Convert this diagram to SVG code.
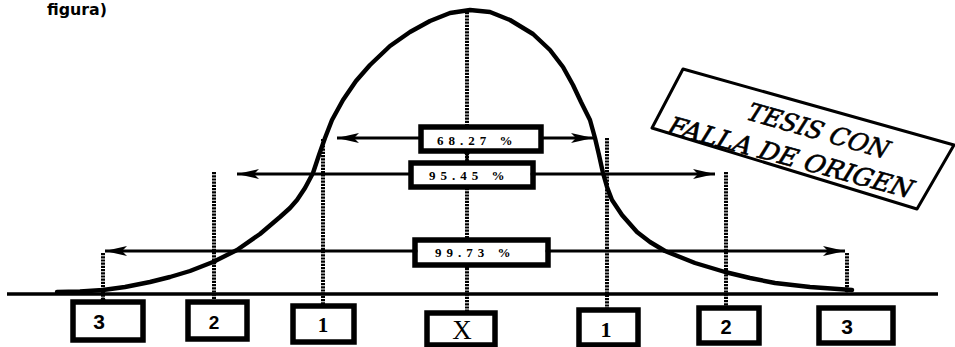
<svg xmlns="http://www.w3.org/2000/svg" width="955" height="347" viewBox="0 0 955 347">
<style>
.dot{stroke:#000;stroke-width:4;stroke-dasharray:2.2 1;fill:none}
.curve{stroke:#000;stroke-width:4.4;fill:none;stroke-linejoin:round;stroke-linecap:round}
.arr{stroke:#000;stroke-width:2.8;fill:none}
.box{fill:#fff;stroke:#000;stroke-width:5.5}
.pct{font-family:"Liberation Serif",serif;font-weight:bold;font-size:13px;letter-spacing:5px;fill:#000}
.lab{fill:#000}
.knob{fill:#000}
.st{font-family:"DejaVu Serif Condensed","DejaVu Serif","Liberation Serif",serif;font-style:italic;font-weight:normal;font-size:25px;fill:#000;stroke:#000;stroke-width:0.6}
</style>
<defs>
<marker id="ah" markerWidth="24" markerHeight="12" refX="22" refY="6" orient="auto" markerUnits="userSpaceOnUse">
<path d="M0,1 L22,6 L0,11 L5,6 Z" fill="#000"/>
</marker>
</defs>
<rect width="955" height="347" fill="#fff"/>
<text x="47" y="15" font-family="DejaVu Sans,sans-serif" font-weight="bold" font-size="15" textLength="60" lengthAdjust="spacingAndGlyphs">figura)</text>

<g id="connectors">
<g id="guides">
<line class="dot" x1="467" y1="12" x2="467" y2="312"/>
<line class="dot" x1="323" y1="139" x2="323" y2="305"/>
<line class="dot" x1="214" y1="172" x2="214" y2="301"/>
<line class="dot" x1="103" y1="253" x2="103" y2="300"/>
<line class="dot" x1="607" y1="138" x2="607" y2="309"/>
<line class="dot" x1="726" y1="172" x2="726" y2="307"/>
<line class="dot" x1="847" y1="253" x2="847" y2="291"/>
</g>
<polyline id="curve" class="curve" points="57,292 80,291.5 103,290 125,287 150,282 170,277 190,271 213,262 237,250 260,234 280,217 290,208 297,200 305,188 313,173 319,155 325,138 332,120 343,100 356,81 370,65 390,46 410,32 430,21 450,13 470,10 490,12 510,20 533,34 550,50 563,67 573,85 581,102 590,120 595,138 599,155 603,173 607,187 612,200 622,215 637,232 650,242 665,251 695,263 725,272 750,278 775,283 810,287 852,290"/>
<line id="axis" x1="7" y1="294" x2="938" y2="294" stroke="#000" stroke-width="3.5"/>
<line class="arr" x1="421" y1="138" x2="337" y2="138" marker-end="url(#ah)"/>
<line class="arr" x1="541" y1="138" x2="593" y2="138" marker-end="url(#ah)"/>
<line class="arr" x1="411" y1="174" x2="237" y2="174" marker-end="url(#ah)"/>
<line class="arr" x1="533" y1="174" x2="715" y2="174" marker-end="url(#ah)"/>
<line class="arr" x1="415" y1="251" x2="105" y2="251" marker-end="url(#ah)"/>
<line class="arr" x1="548" y1="251" x2="845" y2="251" marker-end="url(#ah)"/>
<line x1="467" y1="151" x2="467" y2="163" stroke="#000" stroke-width="3"/>
<circle class="knob" cx="103" cy="300" r="2.5"/>
<circle class="knob" cx="214" cy="262" r="2.5"/>
<circle class="knob" cx="726" cy="272" r="2.5"/>
<circle class="knob" cx="847" cy="290" r="2.5"/>
</g>

<g id="p68">
<rect class="box" x="421" y="127" width="120" height="24"/>
<text class="pct" x="437" y="145">68.27 %</text>
<circle class="knob" cx="467" cy="152" r="3"/>
</g>
<g id="p95">
<rect class="box" x="411" y="163" width="122" height="24"/>
<text class="pct" x="429" y="180">95.45 %</text>
<circle class="knob" cx="533" cy="174" r="2.5"/>
</g>
<g id="p99">
<rect class="box" x="415" y="240" width="133" height="25"/>
<text class="pct" x="435" y="257">99.73 %</text>
<circle class="knob" cx="467" cy="266" r="2.5"/>
<circle class="knob" cx="415" cy="251" r="2.5"/>
<circle class="knob" cx="548" cy="251" r="2.5"/>
</g>

<g id="L3">
<rect class="box" x="73" y="302" width="70" height="38"/>
<text class="lab" x="99" y="329" font-family="Liberation Sans,sans-serif" font-weight="bold" font-size="21" text-anchor="middle">3</text>
</g>
<g id="L2">
<rect class="box" x="188" y="302" width="59" height="37"/>
<text class="lab" x="214" y="329" font-family="Liberation Sans,sans-serif" font-weight="bold" font-size="19" text-anchor="middle">2</text>
</g>
<g id="L1">
<rect class="box" x="293" y="306" width="61" height="36"/>
<text class="lab" x="323" y="332" font-family="Liberation Serif,serif" font-weight="bold" font-size="21" text-anchor="middle">1</text>
</g>
<g id="X">
<rect class="box" x="427" y="313" width="68" height="32"/>
<text class="lab" x="462" y="339" font-family="Liberation Serif,serif" font-size="27" text-anchor="middle">X</text>
</g>
<g id="R1">
<rect class="box" x="579" y="310" width="59" height="35"/>
<text class="lab" x="606" y="337" font-family="Liberation Serif,serif" font-weight="bold" font-size="22" text-anchor="middle">1</text>
</g>
<g id="R2">
<rect class="box" x="699" y="308" width="60" height="35"/>
<text class="lab" x="726" y="334" font-family="Liberation Sans,sans-serif" font-weight="bold" font-size="20" text-anchor="middle">2</text>
</g>
<g id="R3">
<rect class="box" x="819" y="308" width="74" height="35"/>
<text class="lab" x="847" y="334" font-family="Liberation Sans,sans-serif" font-weight="bold" font-size="21" text-anchor="middle">3</text>
</g>

<g id="stamp">
<polygon points="683,69 954,145 917,209 652,128" fill="#fff" stroke="#000" stroke-width="3" stroke-linejoin="round"/>
<text class="st" transform="translate(745,119) rotate(15.8) skewX(-6)" textLength="146" lengthAdjust="spacingAndGlyphs">TESIS CON</text>
<text class="st" transform="translate(666,133) rotate(15) skewX(-6)" textLength="252" lengthAdjust="spacingAndGlyphs">FALLA DE ORIGEN</text>
</g>
</svg>
